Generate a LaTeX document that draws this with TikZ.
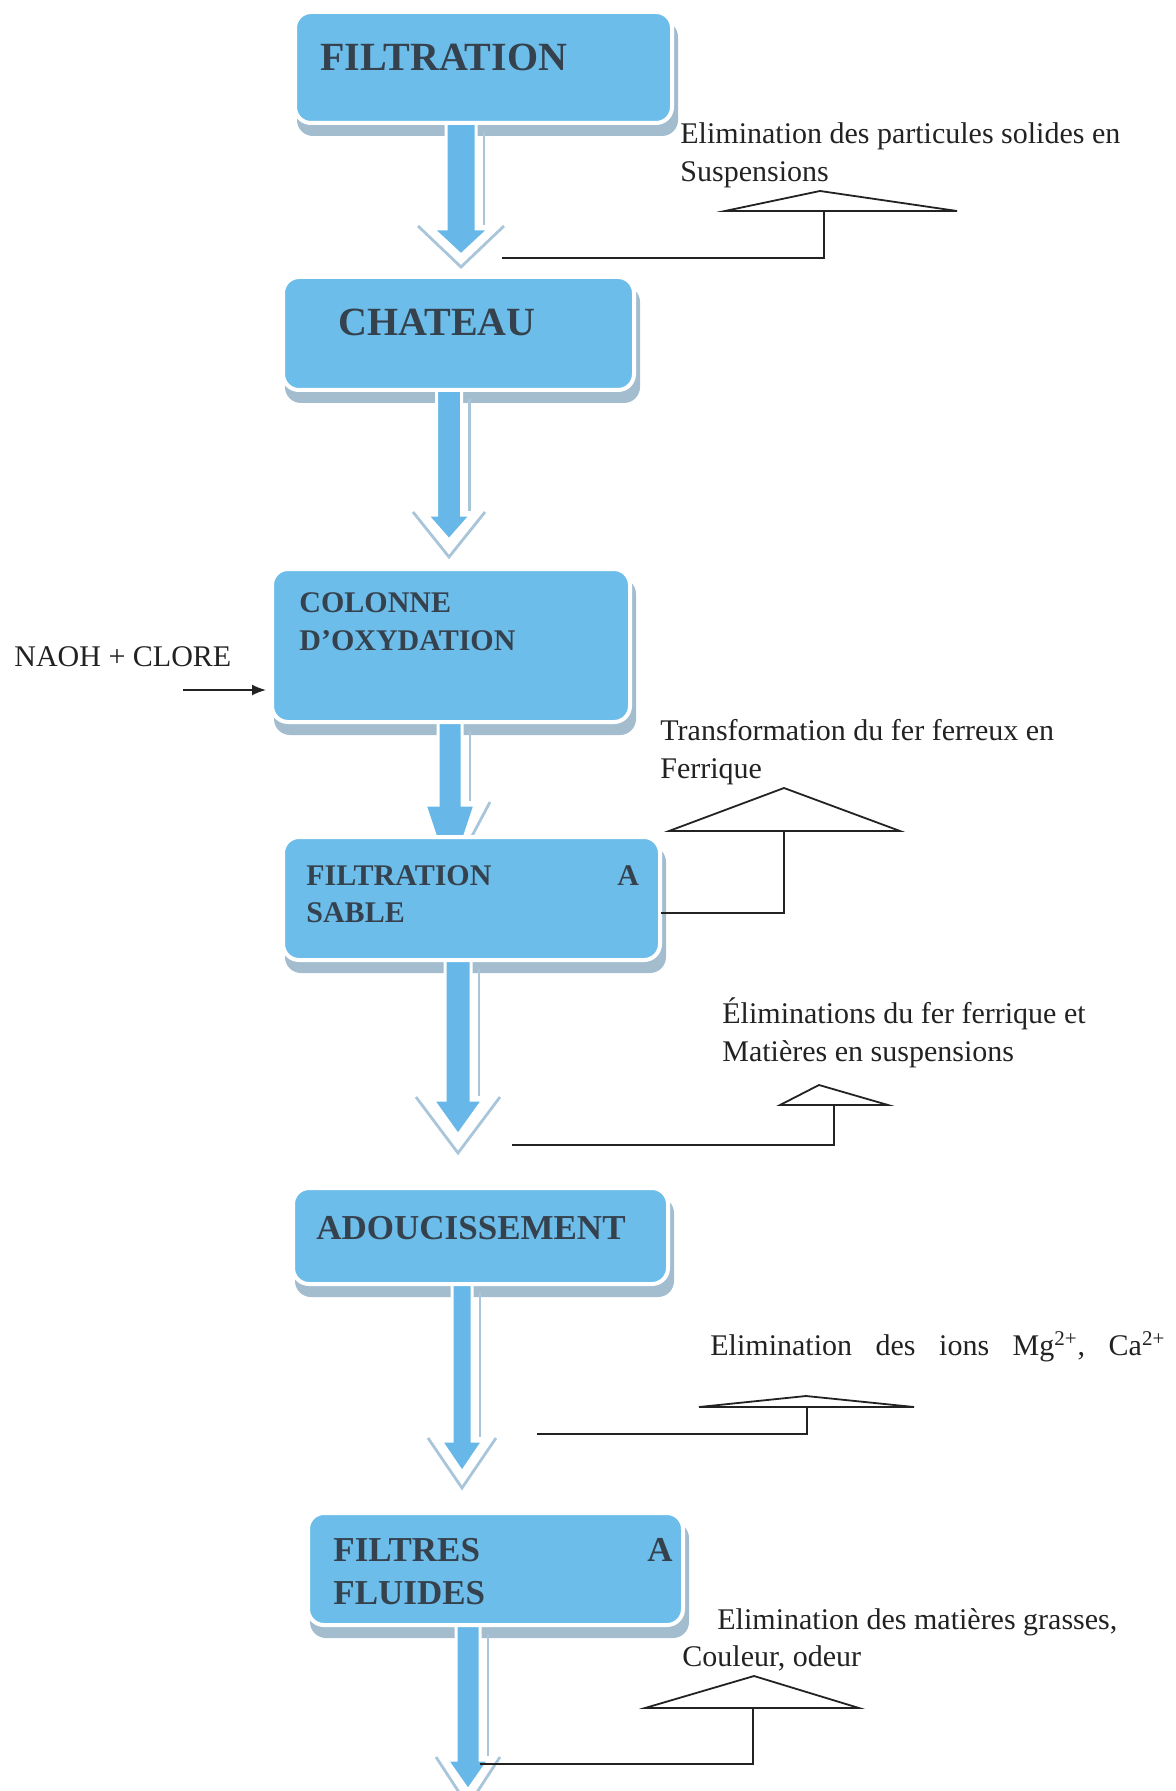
\documentclass[tikz,border=0pt]{standalone}
\usepackage{fontspec}
\setmainfont{Liberation Serif}
\usetikzlibrary{arrows.meta}
\definecolor{boxblue}{HTML}{6DBDEA}
\definecolor{arrblue}{HTML}{67B8E8}
\definecolor{shadowc}{HTML}{A3BDCF}
\definecolor{outl}{HTML}{A9C5D9}
\definecolor{boxtext}{HTML}{35424E}
\definecolor{ink}{HTML}{222222}
\pgfdeclarelayer{bg}\pgfdeclarelayer{mid}\pgfsetlayers{bg,mid,main}
% #1 cx, #2 top, #3 shaft half width, #4 head top, #5 head half width, #6 blue tip, #7 V half width, #8 V tip
\newcommand\blockarrowfill[6]{%
  \fill[arrblue, draw=white, line width=1.5pt] ({#1-#3},#2) -- ({#1-#3},#4) -- ({#1-#5},#4) -- (#1,#6) -- ({#1+#5},#4) -- ({#1+#3},#4) -- ({#1+#3},#2) -- cycle;
  \draw[outl, line width=1.2pt] ({#1+#3+8},{#2+14}) -- ({#1+#3+8},{#4-4});
}
\newcommand\blockarrow[8]{%
  \blockarrowfill{#1}{#2}{#3}{#4}{#5}{#6}
  \draw[outl, line width=1.4pt] ({#1-#7},{#4-3}) -- (#1,#8) -- ({#1+#7},{#4-3});
}
\begin{document}
\begin{tikzpicture}[x=0.5pt,y=-0.5pt,
  stagebox/.style={rounded corners=8pt, fill=boxblue, draw=white, line width=2pt, inner sep=0pt},
  bigtxt/.style={font=\fontsize{20}{24}\selectfont\bfseries, text=boxtext, inner sep=0pt, anchor=west},
  midtxt/.style={font=\fontsize{15}{19}\selectfont\bfseries, text=boxtext, inner sep=0pt, anchor=west, align=left},
  medtxt/.style={font=\fontsize{17.5}{21.5}\selectfont\bfseries, text=boxtext, inner sep=0pt, anchor=west},
  note/.style={font=\fontsize{15}{19}\selectfont, text=ink, inner sep=0pt, anchor=west, align=left},
  marker/.style={draw=ink, line width=0.9pt, line join=miter},
  leader/.style={draw=ink, line width=0.9pt}
]
\useasboundingbox (0,0) rectangle (1175,1791);

% boxes
\node[stagebox, minimum width=188.5pt, minimum height=55.5pt] (b1) at (483.5,67.5) {};
\node[stagebox, minimum width=175.5pt, minimum height=56.5pt] (b2) at (458.5,333.5) {};
\node[stagebox, minimum width=179pt, minimum height=76.5pt] (b3) at (451,645.5) {};
\node[stagebox, minimum width=188.5pt, minimum height=61.5pt] (b4) at (471.5,898.5) {};
\node[stagebox, minimum width=187.5pt, minimum height=48pt] (b5) at (480.5,1236) {};
\node[stagebox, minimum width=187.5pt, minimum height=56pt] (b6) at (495.5,1569) {};

\begin{pgfonlayer}{bg}
\foreach \i in {1,...,6}{
  \fill[shadowc, rounded corners=8pt] ([shift={(4,11)}]b\i.south west) rectangle ([shift={(4,11)}]b\i.north east);
}
\end{pgfonlayer}

\begin{pgfonlayer}{mid}
\blockarrow{461}{118}{15}{229}{28}{255}{43}{267}
\blockarrow{449}{385}{12.5}{515}{22}{540}{36}{557}
\blockarrowfill{450}{717}{12}{805}{25}{880}
\draw[outl, line width=1.4pt] (490,802) -- (472,836);
\blockarrow{458}{955}{13}{1100}{25}{1135}{42}{1153}
\blockarrow{462}{1279}{10}{1441}{21}{1472}{34}{1488}
\blockarrow{468}{1620}{12}{1760}{21}{1790}{32}{1806}
\end{pgfonlayer}

% box texts
\node[bigtxt] (t1) at (320,57) {FILTRATION};
\node[bigtxt] (t2) at (338,322) {CHATEAU};
\node[midtxt] (t3) at (299,622) {COLONNE\\D’OXYDATION};
\node[midtxt] (t4a) at (306,876) {FILTRATION};
\node[midtxt] (t4b) at (617,876) {A};
\node[midtxt] (t4c) at (306,913) {SABLE};
\node[medtxt] (t5) at (316,1228) {ADOUCISSEMENT};
\node[medtxt] (t6a) at (333,1550) {FILTRES};
\node[medtxt] (t6b) at (647,1550) {A};
\node[medtxt] (t6c) at (333,1593) {FLUIDES};

% input
\node[note] (naoh) at (14,657) {NAOH + CLORE};
\coordinate (naohs) at (183,690);
\draw[ink, line width=0.8pt, -{Latex[length=7pt,width=5.5pt]}, shorten >=2pt] (naohs) -- (naohs -| b3.west);

% callout 1
\node[note] (n1) at (680,155) {Elimination des particules solides en\\Suspensions};
\coordinate (c1l) at (725,211); \coordinate (c1a) at (820,191); \coordinate (c1r) at (957,211);
\draw[marker] (c1l) -- (c1a) -- (c1r) -- cycle;
\coordinate (c1m) at (824,211); \coordinate (c1e) at (502,258);
\draw[leader] (c1m) |- (c1e);

% callout 2
\node[note] (n2) at (660,752) {Transformation du fer ferreux en\\Ferrique};
\coordinate (c2l) at (669,831); \coordinate (c2a) at (784,788); \coordinate (c2r) at (900,831);
\draw[marker] (c2l) -- (c2a) -- (c2r) -- cycle;
\coordinate (c2m) at (784,831); \coordinate (c2e) at (661,913);
\draw[leader] (c2m) |- (c2e);

% callout 3
\node[note] (n3) at (722,1033) {Éliminations du fer ferrique et\\Matières en suspensions};
\coordinate (c3l) at (780,1105); \coordinate (c3a) at (819,1085); \coordinate (c3r) at (888,1105);
\draw[marker] (c3l) -- (c3a) -- (c3r) -- cycle;
\coordinate (c3m) at (834,1105); \coordinate (c3e) at (512,1145);
\draw[leader] (c3m) |- (c3e);

% callout 4
\node[note] (n4) at (710,1347) {\makebox[227.5pt][l]{Elimination\hfill des\hfill ions\hfill Mg\textsuperscript{2+},\hfill Ca\textsuperscript{2+}}};
\coordinate (c4l) at (699,1407); \coordinate (c4a) at (806,1396); \coordinate (c4r) at (914,1407);
\draw[marker] (c4l) -- (c4a) -- (c4r) -- cycle;
\coordinate (c4m) at (807,1407); \coordinate (c4e) at (537,1434);
\draw[leader] (c4m) |- (c4e);

% callout 5
\node[note] (n5a) at (717,1622) {Elimination des matières grasses,};
\node[note] (n5b) at (682,1658) {Couleur, odeur};
\coordinate (c5l) at (645,1708); \coordinate (c5a) at (754,1676); \coordinate (c5r) at (859,1708);
\draw[marker] (c5l) -- (c5a) -- (c5r) -- cycle;
\coordinate (c5m) at (753,1708); \coordinate (c5e) at (480,1764);
\draw[leader] (c5m) |- (c5e);
\end{tikzpicture}
\end{document}
